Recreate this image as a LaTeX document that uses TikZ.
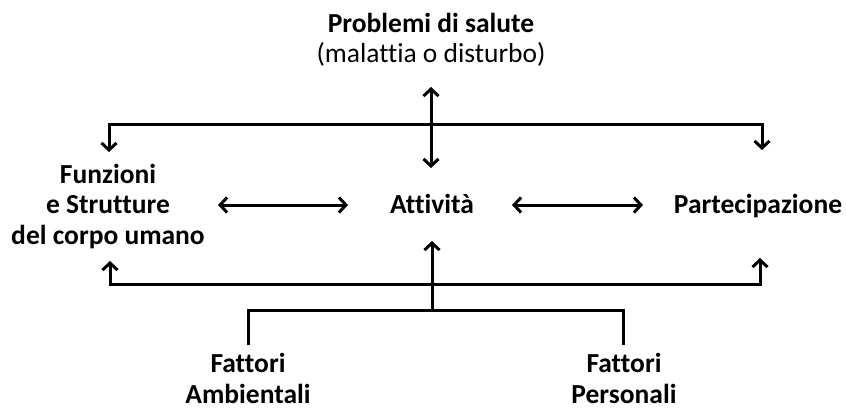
\documentclass[tikz,border=0pt]{standalone}
\usepackage{fontspec}
\setmainfont{Carlito}[Ligatures=NoCommon]
\usetikzlibrary{arrows.meta}
\begin{document}
\begin{tikzpicture}[x=1pt,y=-1pt,
  lbl/.style={font=\fontsize{27.5}{30.5}\selectfont\bfseries, inner sep=0pt, anchor=base, align=center},
  conn/.style={line width=3pt},
  tip/.tip={Straight Barb[length=7pt,width=15pt,line width=3pt]},
  arr/.style={conn, -tip},
  darr/.style={conn, tip-tip}
]
\useasboundingbox (0,0) rectangle (846,409);
% labels
\node[lbl] (prob) at (431,33) {Problemi di salute};
\node[lbl, font=\fontsize{27.5}{30.5}\selectfont] (mal) at (431,63) {(malattia o disturbo)};
\node[lbl] (funz) at (108,244) {Funzioni\\e Strutture\\del corpo umano};
\node[lbl] (att) at (432,213) {Attività};
\node[lbl] (part) at (758,213) {Partecipazione};
\node[lbl] (amb) at (248,403) {Fattori\\Ambientali};
\node[lbl] (pers) at (624,403) {Fattori\\Personali};
% coordinates
\coordinate (vtop) at (431,87);
\coordinate (vbot) at (431,168);
\coordinate (hc) at (431,125);
\coordinate (lt) at (109,152);
\coordinate (rt) at (762,150);
\coordinate (la1) at (218,205);
\coordinate (la2) at (348,205);
\coordinate (ra1) at (512,205);
\coordinate (ra2) at (643,205);
\coordinate (bc) at (432,284);
\coordinate (lb) at (110,261);
\coordinate (rb) at (760,258);
\coordinate (fc) at (432,310);
\coordinate (atip) at (432,241);
\coordinate (fl) at (248,345);
\coordinate (fr) at (623,345);
% connectors
\draw[darr] (vtop) -- (vbot);
\draw[arr] (hc) -| (lt);
\draw[arr] (hc) -| (rt);
\draw[darr] (la1) -- (la2);
\draw[darr] (ra1) -- (ra2);
\draw[arr] (bc) -| (lb);
\draw[arr] (bc) -| (rb);
\draw[arr] (fc) -- (atip);
\draw[conn] (fl) |- (fc) -| (fr);
\end{tikzpicture}
\end{document}
